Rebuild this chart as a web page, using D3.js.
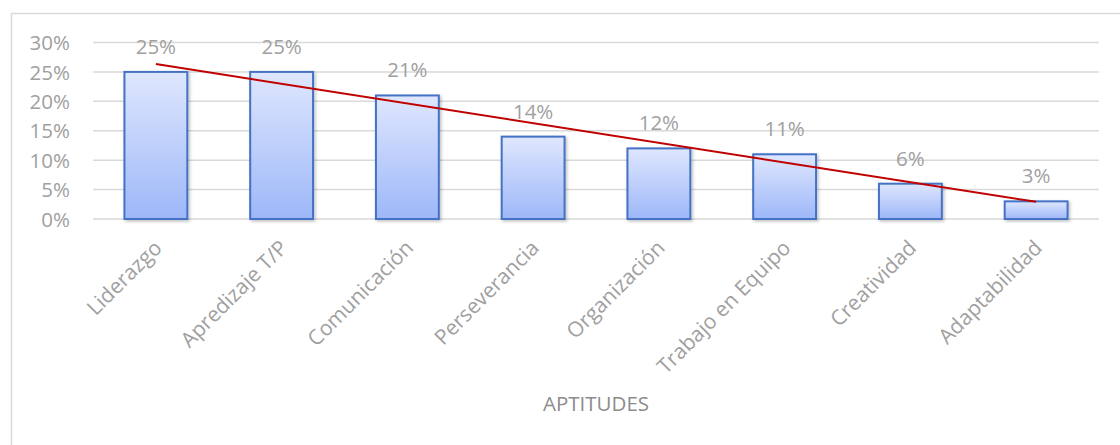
<html>
  <head>
    <style>
    body {
      margin: 0;
      background: #fff;
    }
    text {
      font-family: "Open Sans", Lato, sans-serif;
    }
    </style>
  </head>
  <body>
    <script src="https://d3js.org/d3.v7.min.js"></script>
    <script>
    var categories = ["Liderazgo", "Apredizaje T/P", "Comunicación", "Perseverancia", "Organización", "Trabajo en Equipo", "Creatividad", "Adaptabilidad"];
    var values = [0.25, 0.25, 0.21, 0.14, 0.12, 0.11, 0.06, 0.03];
    var yTicks = [0, 0.05, 0.10, 0.15, 0.20, 0.25, 0.30];
    var axisTitle = "APTITUDES";

    var width = 1120, height = 445;
    var margin = {left: 93, right: 21, top: 42.5, bottom: 226};

    var svg = d3.select("body").append("svg")
        .attr("width", width)
        .attr("height", height);

    // chart frame (cut off on the right and bottom)
    svg.append("rect")
      .attr("x", 11.5).attr("y", 13.5)
      .attr("width", width + 20).attr("height", height + 20)
      .attr("fill", "none")
      .attr("stroke", "#d9d9d9")
      .attr("stroke-width", 1.5);

    var defs = svg.append("defs");
    var grad = defs.append("linearGradient").attr("id", "barfill")
      .attr("x1", 0).attr("y1", 0).attr("x2", 0).attr("y2", 1);
    grad.append("stop").attr("offset", "0%").attr("stop-color", "#dfe7fe");
    grad.append("stop").attr("offset", "100%").attr("stop-color", "#9db7f8");

    var shadow = defs.append("filter").attr("id", "shadow")
      .attr("x", "-10%").attr("y", "-10%").attr("width", "130%").attr("height", "130%");
    shadow.append("feDropShadow")
      .attr("dx", 1.5).attr("dy", 1.5).attr("stdDeviation", 1.5)
      .attr("flood-color", "#000").attr("flood-opacity", 0.25);

    var x = d3.scaleBand()
      .domain(categories)
      .range([margin.left, width - margin.right])
      .paddingInner(0.5)
      .paddingOuter(0.25);

    var y = d3.scaleLinear()
      .domain([0, 0.30])
      .range([height - margin.bottom, margin.top]);

    // gridlines
    svg.append("g")
      .selectAll("line")
      .data(yTicks)
      .enter().append("line")
        .attr("x1", margin.left)
        .attr("x2", width - margin.right)
        .attr("y1", function(d){ return y(d); })
        .attr("y2", function(d){ return y(d); })
        .attr("stroke", "#d9d9d9")
        .attr("stroke-width", 1.5);

    // y axis labels
    var yAxis = d3.axisLeft(y)
      .tickValues(yTicks)
      .tickFormat(d3.format(".0%"))
      .tickSize(0)
      .tickPadding(23);

    var ya = svg.append("g")
      .attr("transform", "translate(" + margin.left + ",0)")
      .call(yAxis);
    ya.select(".domain").remove();
    ya.selectAll("text")
      .attr("fill", "#a0a0a0")
      .style("font-size", "20.5px")
      .attr("dy", "0.35em");

    // bars
    svg.append("g")
      .selectAll("rect")
      .data(values)
      .enter().append("rect")
        .attr("x", function(d, i){ return x(categories[i]); })
        .attr("y", function(d){ return y(d); })
        .attr("width", x.bandwidth())
        .attr("height", function(d){ return y(0) - y(d); })
        .attr("fill", "url(#barfill)")
        .attr("stroke", "#4472c4")
        .attr("stroke-width", 2)
        .attr("filter", "url(#shadow)");

    // value labels
    svg.append("g")
      .selectAll("text")
      .data(values)
      .enter().append("text")
        .attr("x", function(d, i){ return x(categories[i]) + x.bandwidth() / 2; })
        .attr("y", function(d){ return y(d) - 18; })
        .attr("text-anchor", "middle")
        .attr("fill", "#a0a0a0")
        .style("font-size", "20.5px")
        .text(function(d){ return d3.format(".0%")(d); });

    // linear trendline
    var xs = values.map(function(d, i){ return i + 1; });
    var mx = d3.mean(xs), my = d3.mean(values);
    var sxy = d3.sum(xs, function(v, i){ return (v - mx) * (values[i] - my); });
    var sxx = d3.sum(xs, function(v){ return (v - mx) * (v - mx); });
    var slope = sxy / sxx, icpt = my - slope * mx;
    var trend = [categories[0], categories[categories.length - 1]].map(function(c){
      var n = categories.indexOf(c) + 1;
      return [x(c) + x.bandwidth() / 2, y(icpt + slope * n)];
    });
    svg.append("path")
      .attr("d", d3.line()(trend))
      .attr("fill", "none")
      .attr("stroke", "#c00000")
      .attr("stroke-width", 2);

    // x axis labels, rotated
    svg.append("g")
      .selectAll("text")
      .data(categories)
      .enter().append("text")
        .attr("transform", function(d){
          return "translate(" + (x(d) + x.bandwidth() / 2 + 2) + "," + (y(0) + 25) + ") rotate(-45)";
        })
        .attr("text-anchor", "end")
        .attr("dy", "0.35em")
        .attr("fill", "#a0a0a0")
        .style("font-size", "21px")
        .text(function(d){ return d; });

    // axis title
    svg.append("text")
      .attr("x", (margin.left + width - margin.right) / 2)
      .attr("y", 411)
      .attr("text-anchor", "middle")
      .attr("fill", "#8c8c8c")
      .style("font-size", "20.5px")
      .text(axisTitle);
    </script>
  </body>
</html>
